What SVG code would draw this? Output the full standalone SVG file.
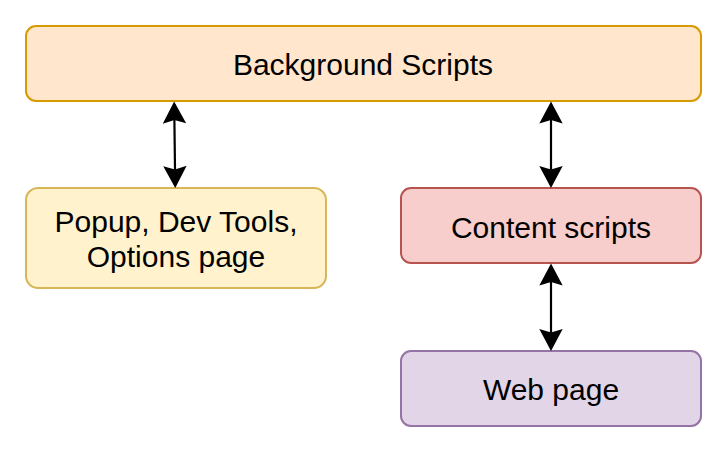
<svg xmlns="http://www.w3.org/2000/svg" width="728" height="453" viewBox="0 0 728 453">
<style>
.box{stroke-width:2}
.lbl{font-family:"Liberation Sans",Arial,sans-serif;font-size:30px;fill:#000;text-anchor:middle}
.conn{stroke:#000;stroke-width:2.2;fill:none;marker-start:url(#arr);marker-end:url(#arr)}
</style>
<defs>
<marker id="arr" markerUnits="userSpaceOnUse" markerWidth="28" markerHeight="28" viewBox="-25 -14 28 28" refX="-2.5" refY="0" orient="auto-start-reverse">
<path d="M0,0 L-22,-11.7 L-18.5,0 L-22,11.7 Z" fill="#000"/>
</marker>
</defs>
<rect width="728" height="453" fill="#fff"/>
<g id="background-scripts">
<rect class="box" x="26" y="26" width="675" height="75" rx="10" fill="#ffe6cc" stroke="#d79b00"/>
<text class="lbl" x="363" y="75">Background Scripts</text>
</g>
<g id="popup">
<rect class="box" x="26" y="188" width="300" height="100" rx="12" fill="#fff2cc" stroke="#d6b656"/>
<text class="lbl" x="176" y="232">Popup, Dev Tools,</text>
<text class="lbl" x="176" y="267">Options page</text>
</g>
<g id="content-scripts">
<rect class="box" x="401" y="188" width="300" height="75" rx="10" fill="#f8cecc" stroke="#b85450"/>
<text class="lbl" x="551" y="238">Content scripts</text>
</g>
<g id="web-page">
<rect class="box" x="401" y="351" width="300" height="75" rx="10" fill="#e1d5e7" stroke="#9673a6"/>
<text class="lbl" x="551" y="400">Web page</text>
</g>
<g id="connectors">
<path class="conn" d="M174.2,104 L175.2,185.5"/>
<path class="conn" d="M551,104 L551,185.5"/>
<path class="conn" d="M551,266 L551,348.5"/>
</g>
</svg>
